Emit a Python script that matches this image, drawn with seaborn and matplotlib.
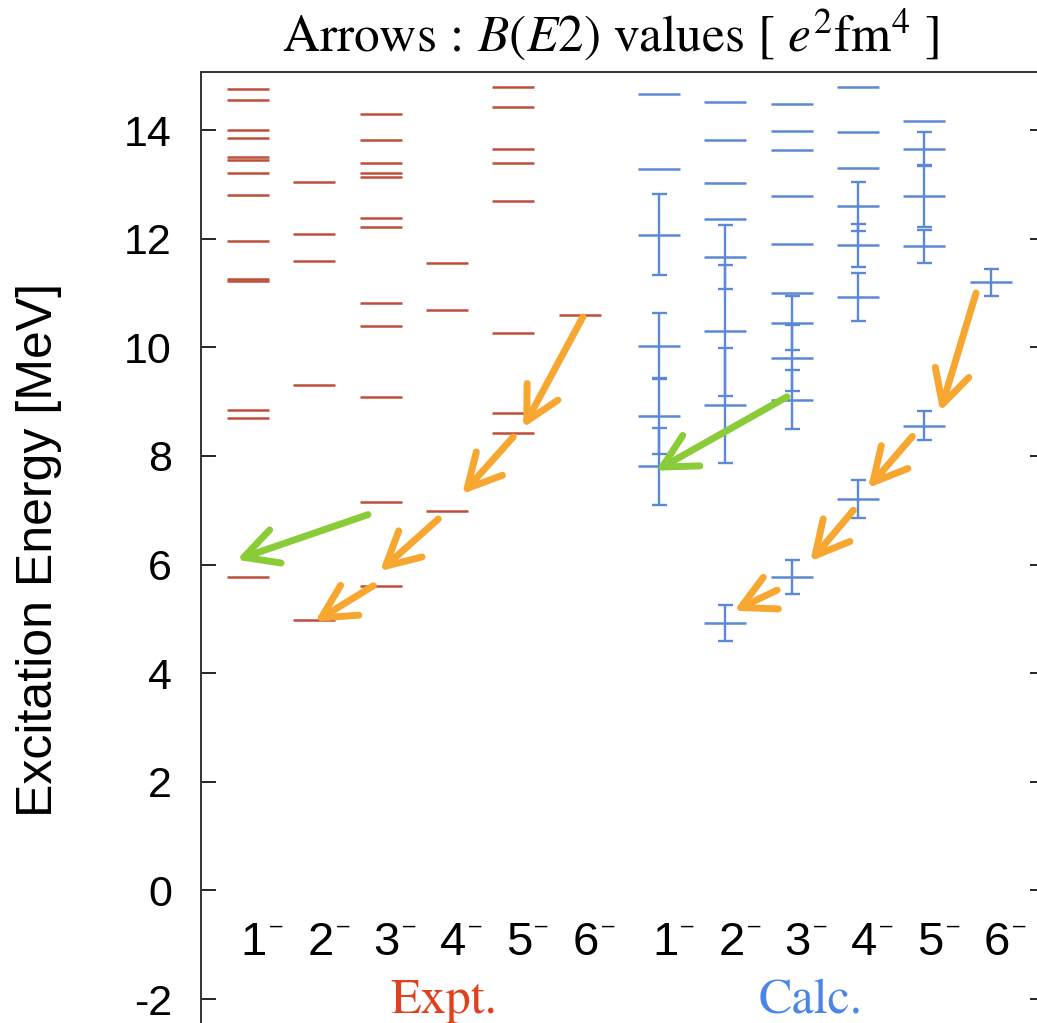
import numpy as np
import pandas as pd
import matplotlib
matplotlib.use("Agg")
import matplotlib.pyplot as plt
from matplotlib.patches import FancyArrowPatch
import seaborn as sns

# ---- level energies [MeV] per spin (1- ... 6-) ----
spins = ["1", "2", "3", "4", "5", "6"]

expt_1 = [14.75, 14.56, 14.00, 13.85, 13.50, 13.45, 13.21, 12.81, 11.96, 11.25, 11.22, 8.85, 8.70, 5.77]
expt_2 = [13.05, 12.09, 11.59, 9.30, 4.98]
expt_3 = [14.30, 13.82, 13.39, 13.21, 13.13, 12.38, 12.22, 10.82, 10.40, 9.09, 7.15, 5.61]
expt_4 = [11.56, 10.69, 6.99]
expt_5 = [14.80, 14.43, 13.66, 13.39, 12.70, 10.26, 8.80, 8.43]
expt_6 = [10.60]

calc_1 = [14.67, 13.29, 12.07, 10.02, 8.74, 7.81]
calc_2 = [14.51, 13.82, 13.02, 12.36, 11.67, 10.31, 8.93, 4.93]
calc_3 = [14.48, 13.98, 13.64, 12.78, 11.91, 11.00, 10.45, 9.81, 9.04, 5.77]
calc_4 = [14.80, 13.96, 13.31, 12.60, 11.88, 10.92, 7.20]
calc_5 = [14.17, 13.66, 12.78, 11.86, 8.56]
calc_6 = [11.20]

# half widths of the calculated resonances (0 = bound / no bar)
width_1 = [0, 0, 0.745, 0.61, 0.70, 0.71]
width_2 = [0, 0, 0, 0, 0.59, 1.21, 1.05, 0.33]
width_3 = [0, 0, 0, 0, 0, 0, 0.49, 0.61, 0.54, 0.32]
width_4 = [0, 0, 0, 0.45, 0.40, 0.44, 0.35]
width_5 = [0, 0.30, 0.56, 0.30, 0.26]
width_6 = [0.25]

# E2 transitions drawn as arrows: (x_from, E_from, x_to, E_to)
expt_arrows_e2 = [(6.05, 10.56, 5.15, 8.52), (5.00, 8.35, 4.23, 7.30),
                  (3.87, 6.84, 2.99, 5.88), (2.89, 5.61, 2.01, 4.95)]
expt_arrows_other = [(2.81, 6.92, 0.83, 6.09)]
calc_arrows_e2 = [(11.98, 11.00, 11.44, 8.82), (11.02, 8.36, 10.35, 7.41),
                  (10.13, 7.00, 9.48, 6.06), (8.98, 5.53, 8.33, 5.15)]
calc_arrows_other = [(9.13, 9.09, 7.15, 7.73)]

yticks = [-2, 0, 2, 4, 6, 8, 10, 12, 14]

expt_cols = [1, 2, 3, 4, 5, 6]
calc_cols = [7.2, 8.2, 9.2, 10.2, 11.2, 12.2]

EXPT_COLOR = "#bf4f3a"
CALC_COLOR = "#5b89d6"
ORANGE = "#f7a630"
GREEN = "#8acc38"

expt_df = pd.DataFrame(
    [(c, e) for c, lv in zip(expt_cols, [expt_1, expt_2, expt_3, expt_4, expt_5, expt_6]) for e in lv],
    columns=["x", "E"])
calc_df = pd.DataFrame(
    [(c, e, w) for c, lv, wd in zip(calc_cols,
                                   [calc_1, calc_2, calc_3, calc_4, calc_5, calc_6],
                                   [width_1, width_2, width_3, width_4, width_5, width_6])
     for e, w in zip(lv, wd)],
    columns=["x", "E", "w"])

sns.set_theme(style="ticks")
plt.rcParams["font.family"] = ["Liberation Sans", "DejaVu Sans"]
plt.rcParams["mathtext.fontset"] = "stix"
for key in ["text.color", "axes.labelcolor", "xtick.color", "ytick.color"]:
    plt.rcParams[key] = "black"

fig = plt.figure(figsize=(10.37, 10.23), dpi=100)
ax = fig.add_axes([201 / 1037, 0.0, (1045 - 201) / 1037, 1 - 72 / 1023])
ax.set_xlim(0.291, 13.02)
ax.set_ylim(-2.44, 15.07)

# level lines
lvl_size = 30.2 ** 2
sns.scatterplot(data=expt_df, x="x", y="E", marker="_", s=lvl_size, linewidth=1.8,
                color=EXPT_COLOR, ax=ax, legend=False, zorder=3)
sns.scatterplot(data=calc_df, x="x", y="E", marker="_", s=lvl_size, linewidth=1.8,
                color=CALC_COLOR, ax=ax, legend=False, zorder=3)

# resonance widths
wd = calc_df[calc_df["w"] > 0]
ax.errorbar(wd["x"], wd["E"], yerr=wd["w"], fmt="none", ecolor=CALC_COLOR,
            elinewidth=1.7, capsize=5.4, capthick=1.7, zorder=3)

# transition arrows
for arrows, col in [(expt_arrows_e2, ORANGE), (expt_arrows_other, GREEN),
                    (calc_arrows_e2, ORANGE), (calc_arrows_other, GREEN)]:
    for x0, y0, x1, y1 in arrows:
        arr = FancyArrowPatch((x0, y0), (x1, y1),
                              arrowstyle="->, head_length=0.8, head_width=0.42",
                              mutation_scale=30, lw=5, color=col,
                              shrinkA=0, shrinkB=0, capstyle="round",
                              joinstyle="round", zorder=4)
        ax.add_patch(arr)

# spin-parity labels: digit plus a small raised minus
for c, s in zip(expt_cols + calc_cols, spins + spins):
    ax.text(c + 0.09, -0.97, s, ha="center", va="center",
            fontsize=34, color="black")
    ax.text(c + 0.43, -0.66, "\u2013", ha="center", va="center",
            fontsize=16, color="black")

ax.text(3.95, -2.04, "Expt.", ha="center", va="center", fontsize=36,
        family="STIXGeneral", color="#e0401c")
ax.text(9.48, -2.04, "Calc.", ha="center", va="center", fontsize=36,
        family="STIXGeneral", color="#4a86e8")

# axes styling
ax.set_yticks(yticks)
ax.set_yticklabels([str(t) for t in yticks])
ax.set_xticks([])
ax.tick_params(axis="y", direction="in", length=11, width=1.2, pad=21,
               labelsize=31, left=True, right=True, colors="black")
for side in ["left", "top", "right"]:
    ax.spines[side].set_visible(True)
    ax.spines[side].set_linewidth(1.4)
    ax.spines[side].set_color("#333333")
ax.spines["bottom"].set_visible(False)
ax.set_xlabel("")
ax.set_ylabel("Excitation Energy [MeV]", fontsize=36, color="black")
ax.yaxis.set_label_coords(-0.165, 0.497)

fig.text(610 / 1037, 1 - 35 / 1023,
         r"Arrows$\,{:}\,B(E2)$ values [ $e^2\mathrm{fm}^4$ ]",
         ha="center", va="center", fontsize=37, family="STIXGeneral",
         color="black")

fig.savefig("out.png", dpi=100)
